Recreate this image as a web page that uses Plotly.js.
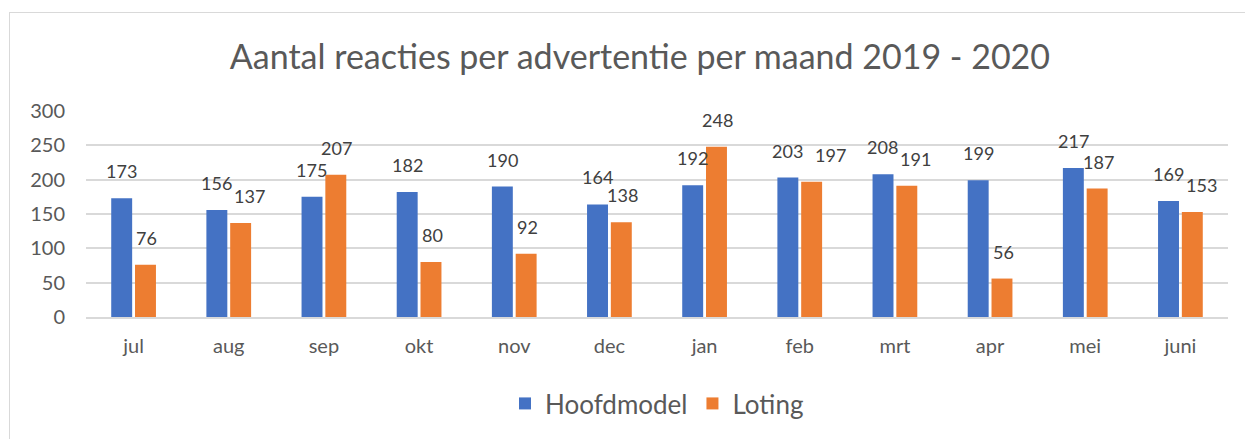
<!DOCTYPE html>
<html>
<head>
<meta charset="utf-8">
<script src="https://cdn.plot.ly/plotly-3.0.1.min.js"></script>
<style>
  html, body { margin: 0; padding: 0; background: #fff; overflow: hidden; }
  #frame {
    position: absolute; left: 9px; top: 12px;
    width: 1240px; height: 432px;
    border: 1px solid #d9d9d9; box-sizing: border-box;
  }
  #chart { position: absolute; left: 0; top: 0; width: 1245px; height: 439px; }
</style>
</head>
<body>
<div id="frame"></div>
<div id="chart"></div>
<script>
const months = ['jul', 'aug', 'sep', 'okt', 'nov', 'dec', 'jan', 'feb', 'mrt', 'apr', 'mei', 'juni'];
const hoofdmodel = [173, 156, 175, 182, 190, 164, 192, 203, 208, 199, 217, 169];
const loting = [76, 137, 207, 80, 92, 138, 248, 197, 191, 56, 187, 153];

const fontFamily = 'Lato, "Open Sans", sans-serif';
const textColor = '#595959';

const traces = [
  {
    x: months, y: hoofdmodel, type: 'bar', name: 'Hoofdmodel',
    marker: { color: '#4472C4' }, hoverinfo: 'y'
  },
  {
    x: months, y: loting, type: 'bar', name: 'Loting',
    marker: { color: '#ED7D31' }, hoverinfo: 'y'
  }
];

// value labels above the bars; when the two labels of a month sit at
// nearly the same height, nudge the orange one to the right (like Excel)
const labelFont = { size: 18, color: '#404040', family: fontFamily };
const annotations = [];
months.forEach((m, i) => {
  const diff = Math.abs(hoofdmodel[i] - loting[i]);
  let nudge = 0;
  if (diff < 12) nudge = 18;
  else if (diff < 20) nudge = 8;
  annotations.push({
    x: m, y: hoofdmodel[i], text: String(hoofdmodel[i]), showarrow: false,
    xshift: -12, yshift: 14, yanchor: 'bottom', font: labelFont
  });
  annotations.push({
    x: m, y: loting[i], text: String(loting[i]), showarrow: false,
    xshift: 13 + nudge, yshift: 14, yanchor: 'bottom', font: labelFont
  });
});

const layout = {
  width: 1245, height: 439,
  paper_bgcolor: 'rgba(0,0,0,0)', plot_bgcolor: 'rgba(0,0,0,0)',
  font: { family: fontFamily, color: textColor },
  title: {
    text: 'Aantal reacties per advertentie per maand 2019 - 2020',
    font: { size: 34, color: textColor, family: fontFamily },
    x: 0.514, xanchor: 'center', y: 0.87, yanchor: 'middle'
  },
  margin: { l: 86, r: 17, t: 111, b: 120 },
  barmode: 'group', bargap: 0.5, bargroupgap: 0.12,
  xaxis: {
    tickfont: { size: 20, color: textColor },
    showline: true, linecolor: '#d9d9d9', linewidth: 2,
    ticks: '', ticklabelstandoff: 10
  },
  yaxis: {
    range: [0, 300], dtick: 50,
    tickfont: { size: 20, color: textColor },
    gridcolor: '#d9d9d9', gridwidth: 2,
    zeroline: false, ticks: '', ticklabelstandoff: 20
  },
  annotations: annotations,
  showlegend: true,
  legend: {
    orientation: 'h', x: 0.5, xanchor: 'center', y: -0.42, yanchor: 'middle',
    font: { size: 26, color: textColor }, itemwidth: 30
  }
};

Plotly.newPlot('chart', traces, layout, { displayModeBar: false, staticPlot: true });
</script>
</body>
</html>
